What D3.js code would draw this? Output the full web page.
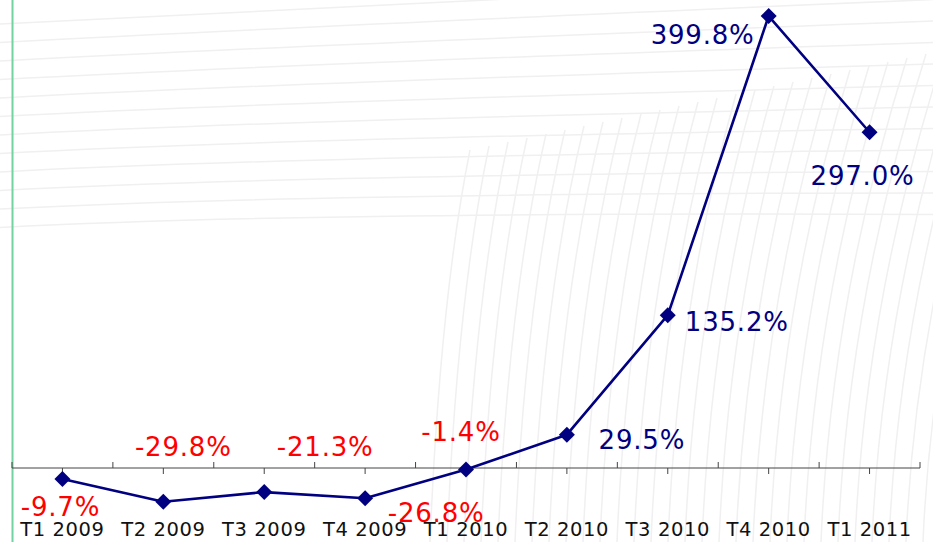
<!DOCTYPE html>
<html>
<head>
  <meta charset="utf-8">
  <title>Quarterly change</title>
  <style>
  body { margin: 0; background: #fff; }
  .lbl {
    font-family: "DejaVu Sans", Verdana, sans-serif;
    font-size: 26px;
    letter-spacing: 0.8px;
    text-anchor: middle;
    dominant-baseline: central;
  }
  .tick-lbl {
    font-family: "DejaVu Sans", Verdana, sans-serif;
    font-size: 19.5px;
    letter-spacing: 0.6px;
    fill: #111;
    text-anchor: middle;
  }
  .series {
    fill: none;
    stroke: #000080;
    stroke-width: 2.6px;
    stroke-linejoin: round;
  }
  .deco { fill: none; stroke: #f0f0f0; stroke-width: 1.5px; }
  </style>
</head>
<body>
  <div id="chart"></div>
  <script src="https://cdn.jsdelivr.net/npm/d3@7/dist/d3.min.js"></script>
  <script>
  //chart data
  var quarters = ["T1 2009", "T2 2009", "T3 2009", "T4 2009", "T1 2010",
                  "T2 2010", "T3 2010", "T4 2010", "T1 2011"];
  var growth = [-9.7, -29.8, -21.3, -26.8, -1.4, 29.5, 135.2, 399.8, 297.0];

  //where each value label sits relative to its point (px)
  var labelOffsets = [[-2, 28], [20, -55], [61, -45], [71, 15], [-5, -38],
                      [75, 5], [69, 7], [-66, 19], [-7, 44]];

  var width = 933, height = 542;

  var svg = d3.select("#chart")
    .append("svg")
    .attr("width", width)
    .attr("height", height);

  //faint background texture
  var deco = svg.append("g");
  d3.range(12).forEach(function(i) {
    var y0 = 18 + i * 18.5;
    deco.append("path").attr("class", "deco")
      .attr("d", "M0," + (y0 + 6) + " Q300," + (y0 - 10) + " 933," + (y0 - 40 + i * 3));
  });
  d3.range(30).forEach(function(i) {
    var x0 = 430 + i * 17;
    deco.append("path").attr("class", "deco")
      .attr("d", "M" + x0 + ",542 Q" + (x0 + 10) + ",300 " + (x0 + 40 + i * 2) + "," + (150 - i * 4));
  });

  //scales
  var x = d3.scaleBand()
    .domain(quarters)
    .range([12, 920]);

  var y = d3.scaleLinear()
    .domain([0, 400])
    .range([468, 15.8]);

  var cx = function(d, i) { return x(quarters[i]) + x.bandwidth() / 2; };

  //left green line
  svg.append("line")
    .attr("x1", 12.5).attr("x2", 12.5)
    .attr("y1", 0).attr("y2", height)
    .attr("stroke", "#72d2a2")
    .attr("stroke-width", 2);

  //category axis: major ticks up on boundaries, minor ticks down at centres
  var axis = svg.append("g")
    .attr("transform", "translate(0," + y(0) + ")");
  axis.append("line")
    .attr("x1", 12).attr("x2", 920)
    .attr("stroke", "#444").attr("stroke-width", 1);
  var bounds = quarters.map(function(q) { return x(q); }).concat([x.range()[1]]);
  axis.selectAll(".major").data(bounds).enter().append("line")
    .attr("x1", function(d) { return d; }).attr("x2", function(d) { return d; })
    .attr("y1", 0).attr("y2", -6)
    .attr("stroke", "#444");
  axis.selectAll(".minor").data(quarters).enter().append("line")
    .attr("x1", function(d) { return x(d) + x.bandwidth() / 2; })
    .attr("x2", function(d) { return x(d) + x.bandwidth() / 2; })
    .attr("y1", 0).attr("y2", 6)
    .attr("stroke", "#444");

  //tick labels
  svg.selectAll(".tick-lbl").data(quarters).enter().append("text")
    .attr("class", "tick-lbl")
    .attr("x", function(d) { return x(d) + x.bandwidth() / 2; })
    .attr("y", 536)
    .text(function(d) { return d; });

  //line
  var line = d3.line()
    .x(cx)
    .y(function(d) { return y(d); });

  svg.append("path")
    .datum(growth)
    .attr("class", "series")
    .attr("d", line);

  //diamond markers
  svg.selectAll(".pt").data(growth).enter().append("path")
    .attr("d", "M0,-8L8,0L0,8L-8,0Z")
    .attr("fill", "#000080")
    .attr("transform", function(d, i) {
      return "translate(" + cx(d, i) + "," + y(d) + ")";
    });

  //value labels
  svg.selectAll(".lbl").data(growth).enter().append("text")
    .attr("class", "lbl")
    .attr("x", function(d, i) { return cx(d, i) + labelOffsets[i][0]; })
    .attr("y", function(d, i) { return y(d) + labelOffsets[i][1]; })
    .attr("fill", function(d) { return d < 0 ? "#ff0000" : "#000080"; })
    .text(function(d) { return d.toFixed(1) + "%"; });
  </script>
</body>
</html>
